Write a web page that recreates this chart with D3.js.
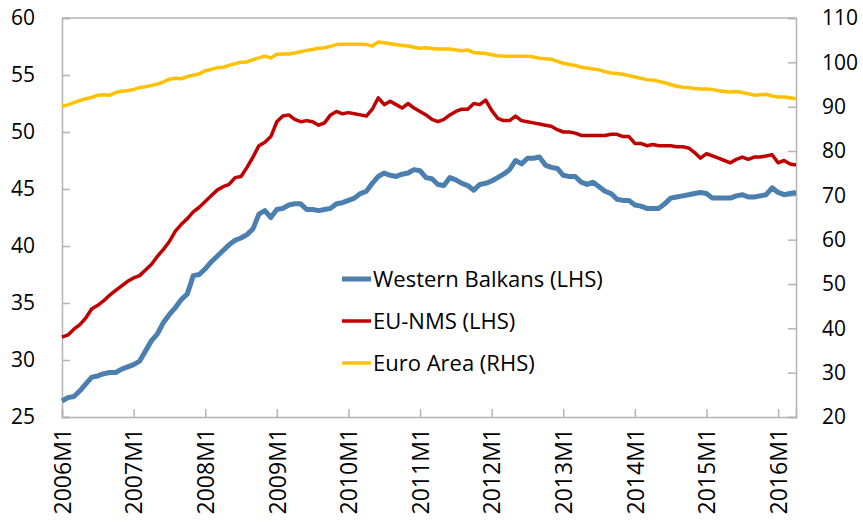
<!DOCTYPE html>
<html>
<head>
<meta charset="utf-8">
<script src="https://cdn.jsdelivr.net/npm/d3@7"></script>
<style>
body { margin: 0; background: #fff; }
text { font-family: "Open Sans", sans-serif; fill: #000; }
</style>
</head>
<body>
<div id="chart"></div>
<script>
// monthly data, 2006M1 .. 2016M4
const startYear = 2006

const westernBalkans = [
  26.4, 26.7, 26.8, 27.3, 27.9, 28.5, 28.6, 28.8, 28.9, 28.9, 29.2, 29.4,
  29.6, 29.9, 30.8, 31.7, 32.3, 33.3, 34.0, 34.6, 35.3, 35.8, 37.4, 37.5,
  38.0, 38.6, 39.1, 39.6, 40.1, 40.5, 40.7, 41.0, 41.5, 42.8, 43.1, 42.5,
  43.2, 43.3, 43.6, 43.7, 43.7, 43.2, 43.2, 43.1, 43.2, 43.3, 43.7, 43.8,
  44.0, 44.2, 44.6, 44.8, 45.5, 46.1, 46.4, 46.2, 46.1, 46.3, 46.4, 46.7,
  46.6, 46.0, 45.9, 45.4, 45.3, 46.0, 45.8, 45.5, 45.3, 44.9, 45.4, 45.5,
  45.7, 46.0, 46.3, 46.7, 47.5, 47.2, 47.7, 47.7, 47.8, 47.1, 46.9, 46.8,
  46.2, 46.1, 46.1, 45.6, 45.4, 45.6, 45.2, 44.8, 44.6, 44.1, 44.0, 44.0,
  43.6, 43.5, 43.3, 43.3, 43.3, 43.7, 44.2, 44.3, 44.4, 44.5, 44.6, 44.7,
  44.6, 44.2, 44.2, 44.2, 44.2, 44.4, 44.5, 44.3, 44.3, 44.4, 44.5, 45.1,
  44.7, 44.5, 44.6, 44.7
]

const euNms = [
  32.0, 32.2, 32.7, 33.1, 33.7, 34.5, 34.8, 35.2, 35.7, 36.1, 36.5, 36.9,
  37.2, 37.4, 37.9, 38.4, 39.1, 39.7, 40.4, 41.3, 41.9, 42.4, 43.0, 43.4,
  43.9, 44.4, 44.9, 45.2, 45.4, 46.0, 46.1, 46.9, 47.8, 48.8, 49.1, 49.6,
  50.9, 51.4, 51.5, 51.1, 50.9, 51.0, 50.9, 50.6, 50.8, 51.5, 51.8, 51.6,
  51.7, 51.6, 51.5, 51.4, 52.0, 53.0, 52.4, 52.7, 52.4, 52.1, 52.5, 52.1,
  51.8, 51.5, 51.1, 50.9, 51.1, 51.5, 51.8, 52.0, 52.0, 52.5, 52.4, 52.8,
  51.9, 51.2, 51.0, 51.0, 51.4, 51.0, 50.9, 50.8, 50.7, 50.6, 50.5, 50.2,
  50.0, 50.0, 49.9, 49.7, 49.7, 49.7, 49.7, 49.7, 49.8, 49.8, 49.6, 49.6,
  49.0, 49.0, 48.8, 48.9, 48.8, 48.8, 48.8, 48.7, 48.7, 48.6, 48.2, 47.7,
  48.1, 47.9, 47.7, 47.5, 47.3, 47.6, 47.8, 47.6, 47.8, 47.8, 47.9, 48.0,
  47.3, 47.5, 47.2, 47.1
]

const euroArea = [
  90.1, 90.4, 90.9, 91.4, 91.8, 92.1, 92.6, 92.7, 92.6, 93.2, 93.5, 93.6,
  93.9, 94.3, 94.5, 94.8, 95.1, 95.6, 96.2, 96.4, 96.3, 96.8, 97.1, 97.4,
  98.1, 98.4, 98.8, 98.9, 99.3, 99.7, 100.0, 100.1, 100.6, 101.0, 101.4, 101.0,
  101.8, 101.9, 101.9, 102.1, 102.4, 102.7, 102.9, 103.2, 103.3, 103.6, 104.0, 104.1,
  104.1, 104.1, 104.1, 104.0, 103.7, 104.6, 104.4, 104.2, 104.0, 103.8, 103.7, 103.4,
  103.2, 103.3, 103.1, 103.0, 103.0, 103.0, 102.8, 102.6, 102.8, 102.2, 102.1, 102.0,
  101.7, 101.5, 101.4, 101.4, 101.4, 101.4, 101.4, 101.2, 100.9, 100.8, 100.7, 100.2,
  99.8, 99.5, 99.3, 98.9, 98.7, 98.5, 98.3, 97.9, 97.6, 97.5, 97.3, 97.0,
  96.7, 96.4, 96.1, 96.0, 95.7, 95.4, 95.0, 94.6, 94.4, 94.3, 94.1, 94.0,
  94.0, 93.9, 93.6, 93.4, 93.3, 93.4, 93.2, 92.9, 92.6, 92.7, 92.8, 92.4,
  92.2, 92.2, 92.0, 91.8
]

const leftTicks = [25, 30, 35, 40, 45, 50, 55, 60]
const rightTicks = [20, 30, 40, 50, 60, 70, 80, 90, 100, 110]
const yearTicks = ['2006M1', '2007M1', '2008M1', '2009M1', '2010M1', '2011M1',
  '2012M1', '2013M1', '2014M1', '2015M1', '2016M1']

const months = westernBalkans.map((d, i) => `${startYear + Math.floor(i / 12)}M${i % 12 + 1}`)

const width = 863
const height = 524
const margin = { top: 18, right: 67, bottom: 107, left: 62 }
const axisColor = '#b3b3b3'

const svg = d3.select('#chart')
  .append('svg')
  .attr('width', width)
  .attr('height', height)

const x = d3.scalePoint()
  .domain(months)
  .range([margin.left, width - margin.right])

const yLeft = d3.scaleLinear()
  .domain([25, 60])
  .range([height - margin.bottom, margin.top])

const yRight = d3.scaleLinear()
  .domain([20, 110])
  .range([height - margin.bottom, margin.top])

// top border of the plot
svg.append('line')
  .attr('x1', margin.left)
  .attr('x2', width - margin.right)
  .attr('y1', margin.top)
  .attr('y2', margin.top)
  .attr('stroke', axisColor)
  .attr('stroke-width', 1.5)

// axes
const gLeft = svg.append('g')
  .attr('transform', `translate(${margin.left},0)`)
  .call(d3.axisLeft(yLeft).tickValues(leftTicks).tickSize(-8).tickPadding(27))

const gRight = svg.append('g')
  .attr('transform', `translate(${width - margin.right},0)`)
  .call(d3.axisRight(yRight).tickValues(rightTicks).tickSize(-8).tickPadding(26))

const gBottom = svg.append('g')
  .attr('transform', `translate(0,${height - margin.bottom})`)
  .call(d3.axisBottom(x).tickValues(yearTicks).tickSize(-8))

for (let g of [gLeft, gRight, gBottom]) {
  g.selectAll('path, line').attr('stroke', axisColor).attr('stroke-width', 1.5)
  g.selectAll('text').style('font-size', '21px').attr('fill', '#000')
}

gBottom.selectAll('text')
  .attr('transform', 'rotate(-90)')
  .attr('text-anchor', 'end')
  .attr('x', -11)
  .attr('y', 0)
  .attr('dy', '0.36em')
  .style('font-size', '23px')

// series
const series = [
  { name: 'Western Balkans (LHS)', values: westernBalkans, y: yLeft, color: '#4a7fb0', width: 5 },
  { name: 'EU-NMS (LHS)', values: euNms, y: yLeft, color: '#c00000', width: 3.5 },
  { name: 'Euro Area (RHS)', values: euroArea, y: yRight, color: '#ffc000', width: 3.5 }
]

for (let s of series.slice().reverse()) {
  const line = d3.line()
    .x((d, i) => x(months[i]))
    .y(d => s.y(d))
  svg.append('path')
    .datum(s.values)
    .attr('fill', 'none')
    .attr('stroke', s.color)
    .attr('stroke-width', s.width)
    .attr('stroke-linejoin', 'round')
    .attr('d', line)
}

// legend
const legend = svg.append('g')
  .selectAll('g')
  .data(series)
  .enter()
  .append('g')
  .attr('transform', (d, i) => `translate(342, ${279 + i * 42})`)

legend.append('line')
  .attr('x1', 0)
  .attr('x2', 29)
  .attr('stroke', d => d.color)
  .attr('stroke-width', d => d.width)

legend.append('text')
  .attr('x', 31)
  .attr('dy', '0.36em')
  .style('font-size', '22px')
  .text(d => d.name)
</script>
</body>
</html>
